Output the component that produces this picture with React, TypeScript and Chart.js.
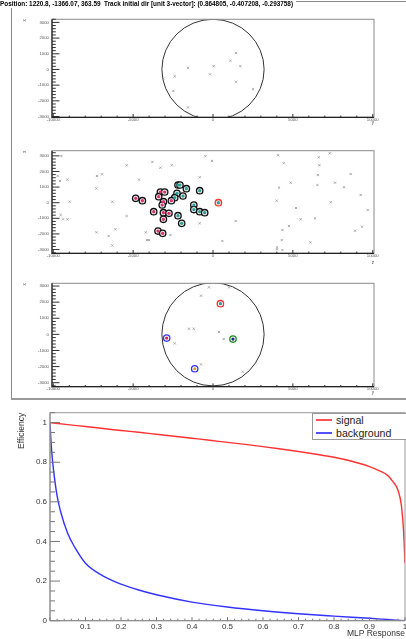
import React, { useEffect, useRef } from 'react';
import { Chart, registerables } from 'chart.js';

Chart.register(...registerables);

const FONT = '"Liberation Sans", Arial, Helvetica, sans-serif';

const TITLE_TEXT =
  'Position: 1220.8, -1366.07, 363.59  Track initial dir [unit 3-vector]: (0.864805, -0.407208, -0.293758)';

// ---------- event display ----------
const EV_X_TICKS = [-10000, -5000, 0, 5000, 10000];
const EV_Y_TICKS = [-3000, -2000, -1000, 0, 1000, 2000, 3000];
const DETECTOR_RADIUS = 3200;

// [horizontal, vertical]
const P1_HITS: [number, number][] = [
  [1440, 1056], [1088, 559], [1715, 207], [44, 207], [-1565, 104], [-188, -311],
  [-2398, -435], [-3106, -580], [1440, -786], [2505, -1263], [-2481, -1366], [-1565, -2422],
];

const P2_HITS: [number, number][] = [
  [-9493, 2994], [-9725, 1712], [-9580, 1391], [-9117, 1476], [-8973, 64], [-9537, -788],
  [-9393, -1066], [-9117, -1066], [-7264, 1712], [-6950, 1818], [-7301, 920], [-7301, -1898],
  [-6531, -2135], [-6299, -2731], [-6111, -1705], [-6299, 64], [-5404, 2397], [-5404, -853],
  [-4634, 1476], [-4214, -1898], [-4133, -2391], [-4008, -2391], [-3795, 2609], [-3294, 2244],
  [-2586, 2397], [-2668, -2071], [-833, 1628], [-833, -1321], [-476, 2974], [-63, 2673],
  [589, -2455], [1421, -1173], [4070, 3038], [4427, 2526], [4133, 962], [3989, 128],
  [4865, 1282], [5197, -340], [5491, -1066], [4759, -1494], [4344, -1750], [4302, -2391],
  [4008, -2859], [4008, -2987], [4344, -3032], [6099, -2538], [6387, -1000], [6619, 2910],
  [6660, 2397], [6575, 1776], [6537, 1135], [7307, 3167], [7370, 26], [7639, 1282],
  [8203, 987], [8622, 1840], [9248, 494], [8892, -1795], [9330, -1538], [9687, -468],
];

const P2_PINK: [number, number][] = [
  [-4840, 282], [-4420, 128], [-3713, -577], [-3294, 686], [-3024, 686], [-3400, 385],
  [-3100, 64], [-3180, -147], [-3106, -641], [-2755, -680], [-3106, -1064], [-3444, -1814],
  [-3150, -1962], [-2605, 128],
];

const P2_TEAL: [number, number][] = [
  [-2192, 1135], [-2067, 1135], [-1666, 897], [-2254, 603], [-2398, 321], [-1879, 429],
  [-833, 769], [-1200, -147], [-1200, -440], [-833, -577], [-520, -641], [-2192, -833],
  [-1960, -1321],
];

const P2_SEED: [number, number][] = [[338, 0]];

const P3_HITS: [number, number][] = [
  [-250, 2919], [1000, 2919], [-751, 2400], [-1503, 350], [-1209, 350], [376, 145],
  [670, -290], [-2398, -560], [-751, -1865], [1860, -2320],
];

const P3_MARKED: [number, number][] = [[463, 1903], [1252, -290], [-2900, -230], [-1146, -2137]];
const P3_RING_COLORS = ['#ff3030', '#1a8a1a', '#3333ff', '#3333ff'];
const P3_CORE_COLORS = ['#1aa0a0', '#202090', '#e02050', '#e0a020'];

// ---------- efficiency ----------
const EFF_X_TICKS = [0.1, 0.2, 0.3, 0.4, 0.5, 0.6, 0.7, 0.8, 0.9, 1];
const EFF_Y_TICKS = [0, 0.2, 0.4, 0.6, 0.8, 1];

const SIGNAL_X = [0, 0.01, 0.05, 0.1, 0.15, 0.2, 0.25, 0.3, 0.35, 0.4, 0.45, 0.5, 0.55, 0.6, 0.65, 0.7, 0.75, 0.8, 0.85, 0.9, 0.93, 0.95, 0.965, 0.98, 0.99, 0.996, 1.0];
const SIGNAL_Y = [1.0, 0.998, 0.99, 0.98, 0.97, 0.96, 0.951, 0.941, 0.931, 0.921, 0.911, 0.9, 0.89, 0.879, 0.867, 0.854, 0.84, 0.825, 0.805, 0.778, 0.755, 0.735, 0.705, 0.66, 0.58, 0.45, 0.29];

const BACKGROUND_X = [0, 0.002, 0.005, 0.01, 0.02, 0.03, 0.05, 0.07, 0.1, 0.15, 0.2, 0.25, 0.3, 0.4, 0.5, 0.6, 0.7, 0.8, 0.9, 0.95, 1.0];
const BACKGROUND_Y = [1.0, 0.93, 0.85, 0.76, 0.63, 0.55, 0.44, 0.37, 0.29, 0.225, 0.185, 0.155, 0.131, 0.094, 0.069, 0.05, 0.035, 0.023, 0.012, 0.006, 0.0];

// ---------- plugins ----------
const rootAxesPlugin = {
  id: 'rootAxes',
  afterDatasetsDraw(chart: any, _args: any, o: any) {
    if (!o || !o.on) return;
    const { ctx, chartArea: a, scales } = chart;
    const xs = scales.x;
    const ys = scales.y;
    ctx.save();
    ctx.strokeStyle = o.frameColor;
    ctx.lineWidth = 1;
    ctx.strokeRect(a.left, a.top, a.right - a.left, a.bottom - a.top);
    ctx.strokeStyle = o.tickColor;
    ctx.lineWidth = 1;
    const ticks = (min: number, max: number, minor: number, major: number, cb: (p: number, isMajor: boolean) => void, scale: any) => {
      const n0 = Math.ceil(min / minor - 1e-9);
      const n1 = Math.floor(max / minor + 1e-9);
      for (let n = n0; n <= n1; n++) {
        const v = n * minor;
        const r = v / major;
        const isMajor = Math.abs(r - Math.round(r)) < 1e-6;
        cb(scale.getPixelForValue(v), isMajor);
      }
    };
    ctx.beginPath();
    ticks(xs.min, xs.max, o.xMinor, o.xMajor, (p, m) => {
      ctx.moveTo(p, a.bottom);
      ctx.lineTo(p, a.bottom - (m ? o.xMajorLen : o.xMinorLen));
    }, xs);
    ticks(ys.min, ys.max, o.yMinor, o.yMajor, (p, m) => {
      ctx.moveTo(a.left, p);
      ctx.lineTo(a.left + (m ? o.yMajorLen : o.yMinorLen), p);
    }, ys);
    ctx.stroke();
    ctx.strokeStyle = o.axisColor;
    ctx.lineWidth = o.axisWidth;
    ctx.beginPath();
    ctx.moveTo(a.left, a.top);
    ctx.lineTo(a.left, a.bottom);
    ctx.lineTo(a.right, a.bottom);
    ctx.stroke();
    ctx.restore();
  },
};

const detectorPlugin = {
  id: 'detector',
  beforeDatasetsDraw(chart: any, _args: any, o: any) {
    if (!o || !o.radius) return;
    const { ctx, chartArea: a, scales } = chart;
    const cx = scales.x.getPixelForValue(0);
    const cy = scales.y.getPixelForValue(0);
    const rx = Math.abs(scales.x.getPixelForValue(o.radius) - cx);
    const ry = Math.abs(scales.y.getPixelForValue(o.radius) - cy);
    ctx.save();
    ctx.beginPath();
    ctx.rect(a.left, a.top, a.right - a.left, a.bottom - a.top);
    ctx.clip();
    ctx.beginPath();
    ctx.ellipse(cx, cy, rx, ry, 0, 0, Math.PI * 2);
    ctx.strokeStyle = '#333';
    ctx.lineWidth = 1;
    ctx.stroke();
    ctx.restore();
  },
};

const toPts = (arr: [number, number][]) => arr.map(([x, y]) => ({ x, y }));

// lower "order" is drawn on top
const crossSet = (arr: [number, number][]) => ({
  data: toPts(arr),
  order: 9,
  pointStyle: 'crossRot',
  pointRadius: 1.6,
  pointBorderColor: '#9a9a9a',
  pointBorderWidth: 0.8,
  showLine: false,
});

const ringSet = (arr: [number, number][], ring: string | string[], order: number, fill = '#e8e8e8') => ({
  data: toPts(arr),
  order,
  pointStyle: 'circle',
  pointRadius: 3.2,
  pointBackgroundColor: fill,
  pointBorderColor: ring,
  pointBorderWidth: 1.3,
  showLine: false,
});

const coreSet = (arr: [number, number][], color: string | string[], order: number) => ({
  data: toPts(arr),
  order,
  pointStyle: 'circle',
  pointRadius: 1.6,
  pointBackgroundColor: color,
  pointBorderColor: color,
  pointBorderWidth: 0,
  showLine: false,
});

const zeroPad = (s: any) => {
  s.paddingLeft = 0;
  s.paddingRight = 0;
  s.paddingTop = 0;
  s.paddingBottom = 0;
};

interface PanelSpec {
  title?: boolean;
  padTop: number;
  xHeight: number;
  yMin: number;
  yMax: number;
  xTitle: string;
  yTitle: string;
  circle: boolean;
  datasets: any[];
}

function eventConfig(p: PanelSpec): any {
  const tickFont = { family: FONT, size: 4.3 };
  return {
    type: 'scatter',
    data: { datasets: p.datasets },
    options: {
      responsive: false,
      animation: false,
      events: [],
      layout: { padding: { top: p.padTop, right: 32, left: 0, bottom: 0 } },
      plugins: {
        legend: { display: false },
        tooltip: { enabled: false },
        title: p.title
          ? {
              display: true,
              text: TITLE_TEXT,
              align: 'start',
              color: '#000',
              font: { family: FONT, size: 6.4, weight: 'bold' },
              padding: { top: 0, bottom: 11.6 },
            }
          : { display: false },
        detector: { radius: p.circle ? DETECTOR_RADIUS : 0 },
        rootAxes: {
          on: true,
          frameColor: '#8a8a8a',
          tickColor: '#333',
          axisColor: '#222',
          axisWidth: 1.2,
          xMajor: 5000, xMinor: 1000, xMajorLen: 3.3, xMinorLen: 1.7,
          yMajor: 1000, yMinor: 200, yMajorLen: 7.5, yMinorLen: 3.8,
        },
      },
      scales: {
        x: {
          type: 'linear',
          min: -10080,
          max: 10080,
          grid: { display: false, drawTicks: false },
          border: { display: false },
          afterBuildTicks: (s: any) => { s.ticks = EV_X_TICKS.map((v) => ({ value: v })); },
          afterFit: (s: any) => { s.height = p.xHeight; zeroPad(s); },
          ticks: { font: tickFont, color: '#555', padding: 0, maxRotation: 0, minRotation: 0, autoSkip: false, callback: (v: any) => String(v) },
          title: { display: true, text: p.xTitle, align: 'end', color: '#444', font: { family: FONT, size: 4.5 }, padding: { top: 0, bottom: 0 } },
        },
        y: {
          type: 'linear',
          min: p.yMin,
          max: p.yMax,
          grid: { display: false, drawTicks: false },
          border: { display: false },
          afterBuildTicks: (s: any) => { s.ticks = EV_Y_TICKS.map((v) => ({ value: v })); },
          afterFit: (s: any) => { s.width = 52; zeroPad(s); },
          ticks: { font: tickFont, color: '#555', padding: 3, autoSkip: false, callback: (v: any) => String(v) },
          title: { display: true, text: p.yTitle, align: 'end', color: '#444', font: { family: FONT, size: 4.5 }, padding: { top: 22, bottom: 0 } },
        },
      },
    },
    plugins: [detectorPlugin, rootAxesPlugin],
  };
}

function efficiencyConfig(): any {
  const tickFont = { family: FONT, size: 8 };
  return {
    type: 'line',
    data: {
      datasets: [
        {
          label: 'signal',
          data: SIGNAL_X.map((x, i) => ({ x, y: SIGNAL_Y[i] })),
          borderColor: '#ff3232',
          borderWidth: 1.4,
          pointRadius: 0,
          fill: false,
          cubicInterpolationMode: 'monotone',
        },
        {
          label: 'background',
          data: BACKGROUND_X.map((x, i) => ({ x, y: BACKGROUND_Y[i] })),
          borderColor: '#3232ff',
          borderWidth: 1.4,
          pointRadius: 0,
          fill: false,
          cubicInterpolationMode: 'monotone',
        },
      ],
    },
    options: {
      responsive: false,
      animation: false,
      events: [],
      layout: { padding: { top: 12.7, right: 1, left: 0, bottom: 0 } },
      plugins: {
        legend: { display: false },
        tooltip: { enabled: false },
        rootAxes: {
          on: true,
          frameColor: '#9a9a9a',
          tickColor: '#777',
          axisColor: '#8a8a8a',
          axisWidth: 1,
          xMajor: 0.1, xMinor: 0.02, xMajorLen: 3.5, xMinorLen: 2,
          yMajor: 0.2, yMinor: 0.05, yMajorLen: 10, yMinorLen: 5,
        },
      },
      scales: {
        x: {
          type: 'linear',
          min: 0,
          max: 1,
          grid: { display: false, drawTicks: false },
          border: { display: false },
          afterBuildTicks: (s: any) => { s.ticks = EFF_X_TICKS.map((v) => ({ value: v })); },
          afterFit: (s: any) => { s.height = 18.3; zeroPad(s); },
          ticks: { font: tickFont, color: '#333', padding: 1, maxRotation: 0, minRotation: 0, autoSkip: false, callback: (v: any) => String(+Number(v).toFixed(2)) },
          title: { display: true, text: 'MLP Response', align: 'end', color: '#333', font: { family: FONT, size: 8.5 }, padding: { top: 0, bottom: 0 } },
        },
        y: {
          type: 'linear',
          min: 0,
          max: 1.05,
          grid: { display: false, drawTicks: false },
          border: { display: false },
          afterBuildTicks: (s: any) => { s.ticks = EFF_Y_TICKS.map((v) => ({ value: v })); },
          afterFit: (s: any) => { s.width = 50; zeroPad(s); },
          ticks: { font: tickFont, color: '#333', padding: 3, autoSkip: false, callback: (v: any) => String(+Number(v).toFixed(2)) },
          title: { display: true, text: 'Efficiency', align: 'end', color: '#333', font: { family: FONT, size: 8.5 }, padding: { top: 17, bottom: 0 } },
        },
      },
    },
    plugins: [rootAxesPlugin],
  };
}

function ChartCanvas(props: { left: number; top: number; width: number; height: number; config: () => any }) {
  const ref = useRef<HTMLCanvasElement>(null);
  useEffect(() => {
    const chart = new Chart(ref.current as HTMLCanvasElement, props.config());
    return () => chart.destroy();
  }, []);
  return (
    <canvas
      ref={ref}
      width={props.width}
      height={props.height}
      style={{ position: 'absolute', left: props.left, top: props.top, width: props.width, height: props.height, display: 'block' }}
    />
  );
}

const panel1: PanelSpec = {
  title: true, padTop: 0, xHeight: 7.7, yMin: -3050, yMax: 3200, xTitle: 'y', yTitle: 'x', circle: true,
  datasets: [crossSet(P1_HITS)],
};
const panel2: PanelSpec = {
  padTop: 10.7, xHeight: 11.7, yMin: -3240, yMax: 3330, xTitle: 'z', yTitle: 'x', circle: false,
  datasets: [
    crossSet(P2_HITS),
    ringSet(P2_PINK, '#111', 4), coreSet(P2_PINK, '#dd2f6e', 1),
    ringSet(P2_TEAL, '#111', 4), coreSet(P2_TEAL, '#2a9d96', 1),
    ringSet(P2_SEED, '#ff3030', 3), coreSet(P2_SEED, '#2a9d96', 0),
  ],
};
const panel3: PanelSpec = {
  padTop: 11.3, xHeight: 8.3, yMin: -3250, yMax: 3170, xTitle: 'y', yTitle: 'x', circle: true,
  datasets: [crossSet(P3_HITS), ringSet(P3_MARKED, P3_RING_COLORS, 4, '#ffffff'), coreSet(P3_MARKED, P3_CORE_COLORS, 1)],
};

const legendRow = (color: string, label: string, top: number) => (
  <div style={{ position: 'absolute', left: 3, top, height: 12, display: 'flex', alignItems: 'center' }}>
    <div style={{ width: 16, height: 2, background: color, opacity: 0.85, marginRight: 4 }} />
    <span style={{ font: `10.6px ${FONT}`, color: '#222', lineHeight: '12px' }}>{label}</span>
  </div>
);

export default function App() {
  return (
    <div style={{ position: 'absolute', left: 0, top: 0, width: 406, height: 639, overflow: 'hidden', background: '#fff' }}>
      <div style={{ position: 'absolute', left: 11, top: 8, width: 1, height: 391, background: '#888' }} />
      <div style={{ position: 'absolute', left: 11, top: 398, width: 395, height: 1.5, background: '#999' }} />
      <div style={{ position: 'absolute', left: 296, top: 1, width: 110, height: 1, background: '#888' }} />
      <ChartCanvas left={0} top={0} width={406} height={125} config={() => eventConfig(panel1)} />
      <ChartCanvas left={0} top={140} width={406} height={125} config={() => eventConfig(panel2)} />
      <ChartCanvas left={0} top={272} width={406} height={123} config={() => eventConfig(panel3)} />
      <ChartCanvas left={0} top={400} width={406} height={239} config={efficiencyConfig} />
      <div style={{ position: 'absolute', left: 312, top: 413, width: 100, height: 27, border: '1px solid #999', background: '#fff', boxSizing: 'border-box' }}>
        {legendRow('#ff3232', 'signal', 0)}
        {legendRow('#3232ff', 'background', 13)}
      </div>
    </div>
  );
}
